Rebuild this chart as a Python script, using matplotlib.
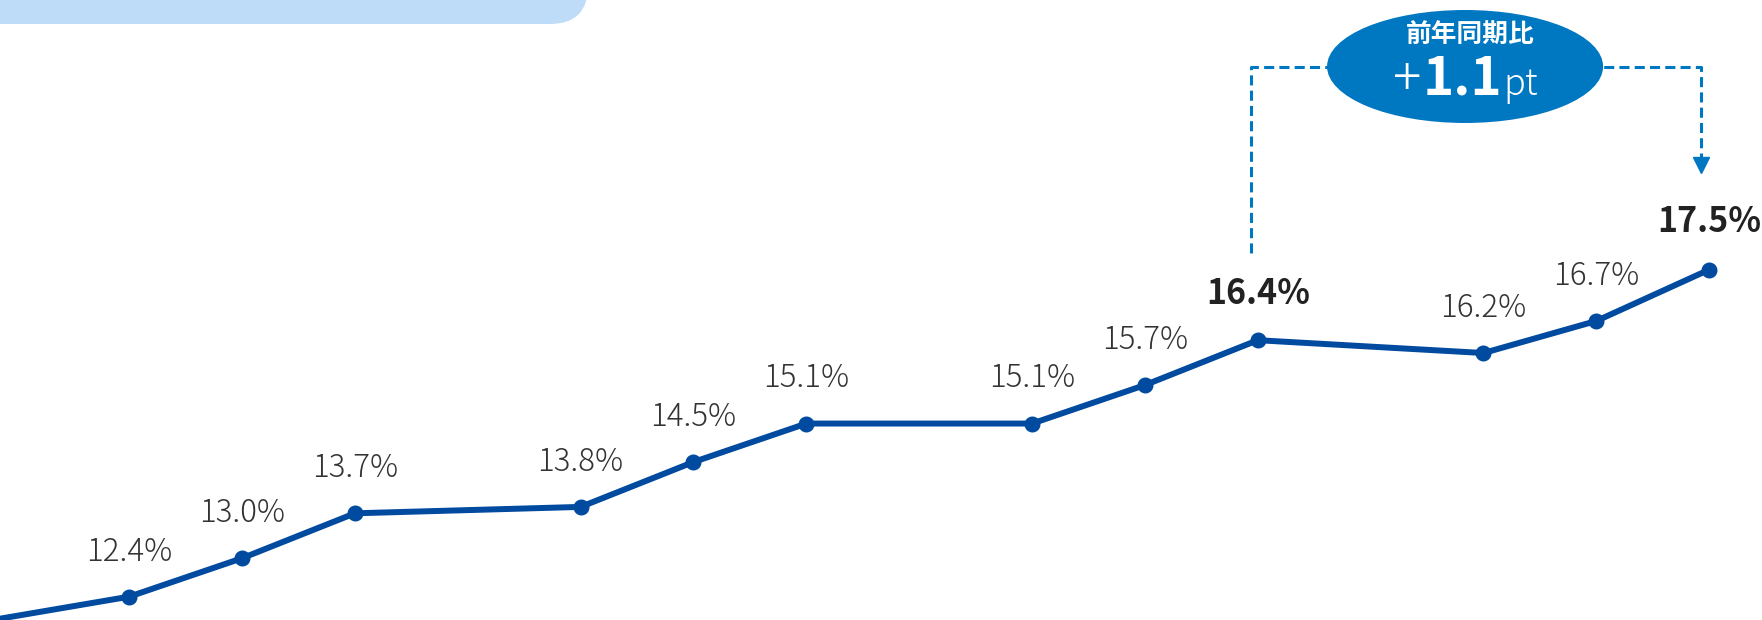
import matplotlib.pyplot as plt
from matplotlib.patches import Ellipse, FancyBboxPatch
from matplotlib.offsetbox import TextArea, HPacker, AnnotationBbox

plt.rcParams['font.family'] = ['Noto Sans CJK JP', 'DejaVu Sans']

# slot positions along the x axis (every 4th slot is left empty)
positions = [-1, 1, 2, 3, 5, 6, 7, 9, 10, 11, 13, 14, 15]
ratios = [11.8, 12.4, 13.0, 13.7, 13.8, 14.5, 15.1, 15.1, 15.7, 16.4, 16.2, 16.7, 17.5]
highlight = [16.4, 17.5]
yoy_label = '前年同期比'
yoy_diff = ['+', '1.1', 'pt']

LINE = '#004a9f'
CALLOUT = '#0077c1'

fig = plt.figure(figsize=(17.62, 6.2), dpi=100)
ax = fig.add_axes([0, 0, 1, 1])
ax.set_xlim(-0.145, 15.468)
ax.set_ylim(12.036, 21.706)
ax.axis('off')

# light header band cut off at the top
band = FancyBboxPatch((-0.5, 5.96), 6.38, 1.0, boxstyle='round,pad=0,rounding_size=0.38',
                      transform=fig.dpi_scale_trans, facecolor='#bedcf8', edgecolor='none')
fig.patches.append(band)

ax.plot(positions, ratios, color=LINE, lw=4.3, marker='o', ms=10.5, solid_joinstyle='round')

for x, v in zip(positions, ratios):
    bold = v in highlight and x >= 11
    ax.annotate(f'{v:.1f}%', (x, v), xytext=(0, 27 if x == 15 else 26), textcoords='offset points',
                ha='center', va='baseline',
                fontsize=24.5 if bold else 22.5,
                fontweight='bold' if bold else 'light',
                color='#222222' if bold else '#333333')

# year-on-year callout between the two highlighted points
x0, x1 = positions[9] - 0.06, positions[12] - 0.076
top = 20.664
dash = dict(color=CALLOUT, lw=2.2, ls=(0, (3.3, 1.7)))
ax.plot([x0, x0, 12.4], [17.76, top, top], **dash)
ax.plot([13.25, x1, x1], [top, top, 19.2], **dash)
ax.plot([x1], [19.125], marker='v', ms=11, color=CALLOUT, ls='none')

ax.add_patch(Ellipse((12.837, 20.669), 2.446, 1.762, facecolor=CALLOUT, edgecolor='none'))
ax.text(12.881, 21.16, yoy_label, ha='center', va='center', fontsize=18.5, fontweight='bold', color='white')

# "+1.1pt" set in three sizes, packed on a shared baseline
parts = [TextArea(yoy_diff[0], textprops=dict(fontsize=38, fontweight='light', color='white')),
         TextArea(yoy_diff[1], textprops=dict(fontsize=38, fontweight='bold', color='white')),
         TextArea(yoy_diff[2], textprops=dict(fontsize=26, fontweight='light', color='white'))]
row = HPacker(children=parts, align='baseline', pad=0, sep=1)
ax.add_artist(AnnotationBbox(row, (12.84, 20.46), frameon=False, box_alignment=(0.5, 0.5), pad=0))

fig.savefig('out.png', dpi=100)
